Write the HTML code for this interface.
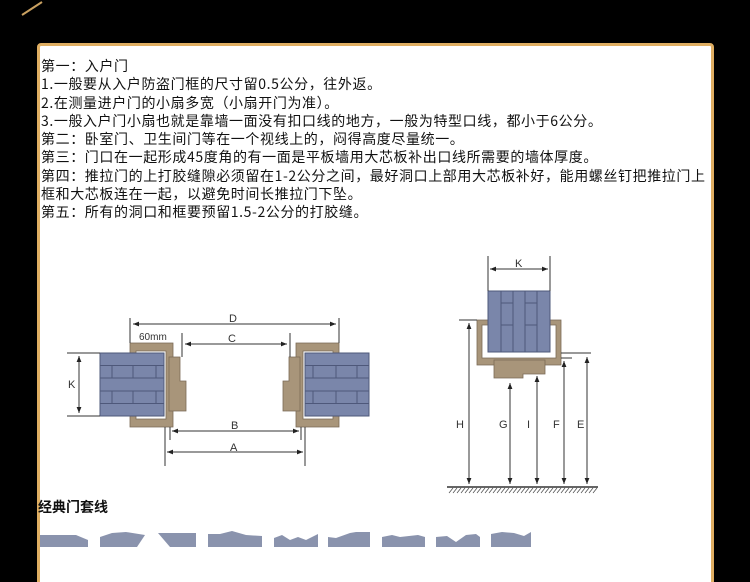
<!DOCTYPE html>
<html><head><meta charset="utf-8"><style>
html,body{margin:0;padding:0;background:#000;width:750px;height:582px;overflow:hidden;position:relative}
.box{position:absolute;left:37px;top:43px;width:671px;height:560px;background:#fff;border:3px solid #dfae62;border-radius:4px}
.txt{position:absolute;left:41px;top:57px;font-family:"Noto Sans CJK SC","Liberation Sans",sans-serif;font-size:14px;line-height:18.3px;letter-spacing:0.6px;color:#111;white-space:nowrap}
.h{position:absolute;left:38px;top:498px;font-family:"Noto Sans CJK SC","Liberation Sans",sans-serif;font-size:14px;line-height:18px;font-weight:bold;color:#111}
svg{position:absolute;left:0;top:0}
</style></head><body>
<svg width="750" height="582"><line x1="22" y1="15" x2="42" y2="2" stroke="#c9a060" stroke-width="2"/></svg>
<div class="box"></div>
<div class="txt">第一：入户门<br>1.一般要从入户防盗门框的尺寸留0.5公分，往外返。<br>2.在测量进户门的小扇多宽（小扇开门为准）。<br>3.一般入户门小扇也就是靠墙一面没有扣口线的地方，一般为特型口线，都小于6公分。<br>第二：卧室门、卫生间门等在一个视线上的，闷得高度尽量统一。<br>第三：门口在一起形成45度角的有一面是平板墙用大芯板补出口线所需要的墙体厚度。<br>第四：推拉门的上打胶缝隙必须留在1-2公分之间，最好洞口上部用大芯板补好，能用螺丝钉把推拉门上<br>框和大芯板连在一起，以避免时间长推拉门下坠。<br>第五：所有的洞口和框要预留1.5-2公分的打胶缝。</div>
<div class="h">经典门套线</div>
<svg width="750" height="582" font-family="Liberation Sans,sans-serif" font-size="11" fill="#333">
<defs>
<marker id="a" viewBox="0 0 10 10" refX="10" refY="5" markerWidth="6" markerHeight="6" orient="auto-start-reverse"><path d="M0 1L10 5L0 9z" fill="#222"/></marker>
<g id="side">
<path d="M296 343H339V355H333V351H303V419H333V416H339V427H296Z" fill="#a8957a" stroke="#7a6a55" stroke-width="0.8"/>
<path d="M289 357H300V411H283V381H289Z" fill="#a8957a" stroke="#7a6a55" stroke-width="0.8"/>
<rect x="305" y="353" width="64" height="63" fill="#7a86aa" stroke="#4e587a"/>
<g stroke="#4e587a" stroke-width="1">
<line x1="305" y1="365.5" x2="369" y2="365.5"/><line x1="305" y1="378" x2="369" y2="378"/><line x1="305" y1="391" x2="369" y2="391"/><line x1="305" y1="403.5" x2="369" y2="403.5"/>
<line x1="313" y1="365" x2="313" y2="378"/><line x1="336" y1="365" x2="336" y2="378"/><line x1="357" y1="365" x2="357" y2="378"/>
<line x1="313" y1="391" x2="313" y2="403"/><line x1="336" y1="391" x2="336" y2="403"/><line x1="357" y1="391" x2="357" y2="403"/>
</g></g>
</defs>
<use href="#side"/>
<use href="#side" transform="matrix(-1 0 0 1 469 0)"/>
<g stroke="#333" stroke-width="1" fill="none">
<line x1="130" y1="318" x2="130" y2="343"/><line x1="339" y1="318" x2="339" y2="343"/>
<line x1="182" y1="333" x2="182" y2="357"/><line x1="290" y1="333" x2="290" y2="357"/>
<line x1="165" y1="427" x2="165" y2="466"/><line x1="305" y1="427" x2="305" y2="466"/>
<line x1="170" y1="427" x2="170" y2="440"/><line x1="301" y1="427" x2="301" y2="440"/>
<line x1="67" y1="353" x2="100" y2="353"/><line x1="67" y1="416" x2="100" y2="416"/>
<line x1="133" y1="324" x2="336" y2="324" marker-start="url(#a)" marker-end="url(#a)"/>
<line x1="185" y1="344" x2="287" y2="344" marker-start="url(#a)" marker-end="url(#a)"/>
<line x1="172" y1="431" x2="299" y2="431" marker-start="url(#a)" marker-end="url(#a)"/>
<line x1="167" y1="452" x2="303" y2="452" marker-start="url(#a)" marker-end="url(#a)"/>
<line x1="79" y1="356" x2="79" y2="413" marker-start="url(#a)" marker-end="url(#a)"/>
</g>
<text x="229" y="322">D</text><text x="228" y="342">C</text><text x="231" y="429">B</text><text x="230" y="451">A</text><text x="68" y="388">K</text><text x="139" y="340" font-size="10">60mm</text>
<path d="M477 320H490V325H482V358H556V325H548V320H561V365H477Z" fill="#a8957a" stroke="#7a6a55" stroke-width="0.8"/>
<path d="M494 360H545V374H523V378H494Z" fill="#a8957a" stroke="#7a6a55" stroke-width="0.8"/>
<rect x="488" y="291" width="62" height="61" fill="#7a86aa" stroke="#4e587a"/>
<g stroke="#4e587a"><line x1="501" y1="291" x2="501" y2="352"/><line x1="513" y1="291" x2="513" y2="352"/><line x1="525" y1="291" x2="525" y2="352"/><line x1="537" y1="291" x2="537" y2="352"/>
<line x1="501" y1="303" x2="513" y2="303"/><line x1="501" y1="325" x2="513" y2="325"/><line x1="525" y1="303" x2="537" y2="303"/><line x1="525" y1="325" x2="537" y2="325"/></g>
<g stroke="#333" stroke-width="1" fill="none">
<line x1="488" y1="256" x2="488" y2="291"/><line x1="550" y1="256" x2="550" y2="291"/>
<line x1="490" y1="269" x2="548" y2="269" marker-start="url(#a)" marker-end="url(#a)"/>
<line x1="459" y1="320" x2="477" y2="320"/><line x1="561" y1="358" x2="572" y2="358"/><line x1="561" y1="353" x2="591" y2="353"/>
<line x1="469" y1="323" x2="469" y2="484" marker-start="url(#a)" marker-end="url(#a)"/>
<line x1="510" y1="383" x2="510" y2="484" marker-start="url(#a)" marker-end="url(#a)"/>
<line x1="537" y1="376" x2="537" y2="484" marker-start="url(#a)" marker-end="url(#a)"/>
<line x1="564" y1="361" x2="564" y2="484" marker-start="url(#a)" marker-end="url(#a)"/>
<line x1="587" y1="357" x2="587" y2="484" marker-start="url(#a)" marker-end="url(#a)"/>
<line x1="447" y1="487" x2="598" y2="487" stroke-width="1.5"/>
</g>
<g stroke="#555" stroke-width="0.8">
<path d="M449 493l4-5M453 493l4-5M457 493l4-5M461 493l4-5M465 493l4-5M469 493l4-5M473 493l4-5M477 493l4-5M481 493l4-5M485 493l4-5M489 493l4-5M493 493l4-5M497 493l4-5M501 493l4-5M505 493l4-5M509 493l4-5M513 493l4-5M517 493l4-5M521 493l4-5M525 493l4-5M529 493l4-5M533 493l4-5M537 493l4-5M541 493l4-5M545 493l4-5M549 493l4-5M553 493l4-5M557 493l4-5M561 493l4-5M565 493l4-5M569 493l4-5M573 493l4-5M577 493l4-5M581 493l4-5M585 493l4-5M589 493l4-5M593 493l4-5"/>
</g>
<text x="515" y="267">K</text>
<text x="456" y="428">H</text><text x="499" y="428">G</text><text x="527" y="428">I</text><text x="553" y="428">F</text><text x="577" y="428">E</text>
<g fill="#8a93ad">
<path d="M40 535H76L88 540V547H40Z"/>
<path d="M100 537L112 533L126 532L145 535L137 547H100Z"/>
<path d="M158 533H196V547H170Z"/>
<path d="M208 534H220L232 531L246 535L262 536V547H208Z"/>
<path d="M274 538L282 535L290 540L298 537L306 540L318 534V547H274Z"/>
<path d="M328 537L336 538L350 533L356 532H370V547H328Z"/>
<path d="M382 537L392 535L400 537L418 535L425 537V547H382Z"/>
<path d="M436 537L447 536L456 542L466 535L476 534L480 537V547H436Z"/>
<path d="M491 534L502 532L514 533L524 536L531 532V547H491Z"/>
</g>
</svg>
</body></html>
